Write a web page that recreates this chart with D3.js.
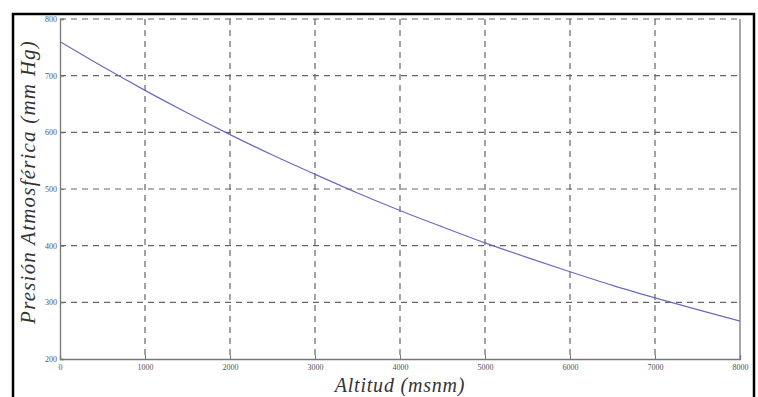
<!DOCTYPE html>
<html>
<head>
<meta charset="utf-8">
<script src="https://cdn.jsdelivr.net/npm/d3@7"></script>
<style>
  body { margin: 0; background: #fff; }
  svg { display: block; }
</style>
</head>
<body>
<script>
const width = 758;
const height = 397;
const margin = {top: 19, right: 18, bottom: 38, left: 60};

// values
const altitud = [0, 500, 1000, 1500, 2000, 2500, 3000, 3500, 4000, 4500, 5000, 5500, 6000, 6500, 7000, 7500, 8000];
const presion = [760, 716, 674, 634, 596, 560, 526, 493, 462, 433, 405, 379, 354, 330, 308, 287, 267];
const xTicks = [0, 1000, 2000, 3000, 4000, 5000, 6000, 7000, 8000];
const yTicks = [200, 300, 400, 500, 600, 700, 800];

const svg = d3.select('body').append('svg')
    .attr('width', width)
    .attr('height', height);

// outer frame
svg.append('rect')
    .attr('x', 13).attr('y', 14)
    .attr('width', 741).attr('height', 390)
    .attr('fill', 'none')
    .attr('stroke', '#000')
    .attr('stroke-width', 2.5);

const xScale = d3.scaleLinear().domain([0, 8000]).range([margin.left, width - margin.right]);
const yScale = d3.scaleLinear().domain([200, 800]).range([height - margin.bottom, margin.top]);

const plot = svg.append('g');

// grid
plot.append('g').classed('grid-x', true)
    .selectAll('line')
    .data(xTicks.slice(1, -1))
    .enter().append('line')
    .attr('x1', d => xScale(d)).attr('x2', d => xScale(d))
    .attr('y1', yScale(800)).attr('y2', yScale(200))
    .attr('stroke', '#666')
    .attr('stroke-width', 1.2)
    .attr('stroke-dasharray', '6,5');

plot.append('g').classed('grid-y', true)
    .selectAll('line')
    .data(yTicks.slice(1))
    .enter().append('line')
    .attr('x1', xScale(0)).attr('x2', xScale(8000))
    .attr('y1', d => yScale(d)).attr('y2', d => yScale(d))
    .attr('stroke', '#666')
    .attr('stroke-width', 1.2)
    .attr('stroke-dasharray', '6,5');

// axes
const xAxis = d3.axisBottom(xScale).tickValues(xTicks).tickFormat(d3.format('d')).tickSize(-4).tickPadding(5);
const yAxis = d3.axisLeft(yScale).tickValues(yTicks).tickFormat(d3.format('d')).tickSize(-4).tickPadding(3);

function styleAxis(g) {
    g.select('.domain').attr('stroke', '#777').attr('stroke-width', 1.3);
    g.selectAll('.tick line').attr('stroke', '#777');
    g.selectAll('.tick text')
        .attr('fill', '#555')
        .attr('font-family', 'Liberation Serif, serif')
        .attr('font-size', 8);
}

svg.append('g')
    .attr('transform', `translate(0,${yScale(200)})`)
    .call(xAxis)
    .call(styleAxis);

svg.append('g')
    .attr('transform', `translate(${xScale(0)},0)`)
    .call(yAxis)
    .call(styleAxis);

// right edge
svg.append('line')
    .attr('x1', xScale(8000)).attr('x2', xScale(8000))
    .attr('y1', yScale(800)).attr('y2', yScale(200))
    .attr('stroke', '#777').attr('stroke-width', 1.3);

// curve
const line = d3.line()
    .x((d, i) => xScale(altitud[i]))
    .y(d => yScale(d))
    .curve(d3.curveMonotoneX);

svg.append('path')
    .datum(presion)
    .attr('fill', 'none')
    .attr('stroke', '#6b6bbf')
    .attr('stroke-width', 1.2)
    .attr('d', line);

// axis labels
svg.append('text')
    .attr('x', (xScale(0) + xScale(8000)) / 2)
    .attr('y', 392)
    .attr('text-anchor', 'middle')
    .attr('font-family', 'Liberation Serif, serif')
    .attr('font-style', 'italic')
    .attr('font-size', 20)
    .attr('letter-spacing', 0.8)
    .attr('fill', '#333')
    .text('Altitud (msnm)');

svg.append('text')
    .attr('transform', `translate(35,${(yScale(200) + yScale(800)) / 2 - 7}) rotate(-90)`)
    .attr('text-anchor', 'middle')
    .attr('font-family', 'Liberation Serif, serif')
    .attr('font-style', 'italic')
    .attr('font-size', 21)
    .attr('letter-spacing', 1.2)
    .attr('fill', '#333')
    .text('Presión Atmosférica (mm Hg)');
</script>
</body>
</html>
